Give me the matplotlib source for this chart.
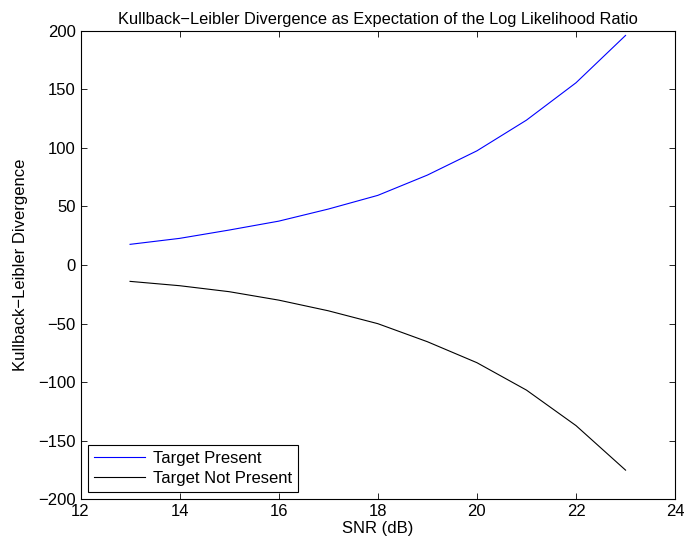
import numpy as np
import matplotlib
matplotlib.use("Agg")
from matplotlib import pyplot as plt

snr_db = [13, 14, 15, 16, 17, 18, 19, 20, 21, 22, 23]
kl_present = [17.7, 22.8, 29.9, 37.5, 47.8, 59.5, 76.8, 97.5, 123.7, 155.6, 196.0]
kl_absent = [-13.9, -17.6, -22.7, -29.9, -39.0, -50.0, -65.4, -83.3, -106.7, -137.0, -175.0]

plt.rcParams['font.family'] = ['Liberation Sans', 'DejaVu Sans']
plt.rcParams['font.size'] = 12

fig = plt.figure(figsize=(6.84, 5.49), dpi=100)
ax = fig.add_axes([0.1177, 0.0903, 0.987 - 0.1177, 0.944 - 0.0903])

ax.plot(snr_db, kl_present, color='blue', lw=0.8, label='Target Present')
ax.plot(snr_db, kl_absent, color='black', lw=0.8, label='Target Not Present')

ax.set_xlim(12, 24)
ax.set_ylim(-200, 200)
ax.set_xticks(np.arange(12, 25, 2))
ax.set_yticks(np.arange(-200, 201, 50))
ax.tick_params(direction='in', top=True, right=True, length=4, width=0.6)
for s in ax.spines.values():
    s.set_linewidth(0.8)

ax.set_xlabel('SNR (dB)', labelpad=1)
ax.set_ylabel('Kullback\u2212Leibler Divergence', labelpad=7)
ax.set_title('Kullback\u2212Leibler Divergence as Expectation of the Log Likelihood Ratio',
             fontsize=11.8, pad=5)

leg = ax.legend(loc='lower left', fancybox=False, edgecolor='black',
                borderaxespad=0.45, handlelength=3.05, handletextpad=0.5,
                borderpad=0.35, labelspacing=0.3, framealpha=1)
leg.get_frame().set_linewidth(0.8)

fig.savefig('out.png', dpi=100)
